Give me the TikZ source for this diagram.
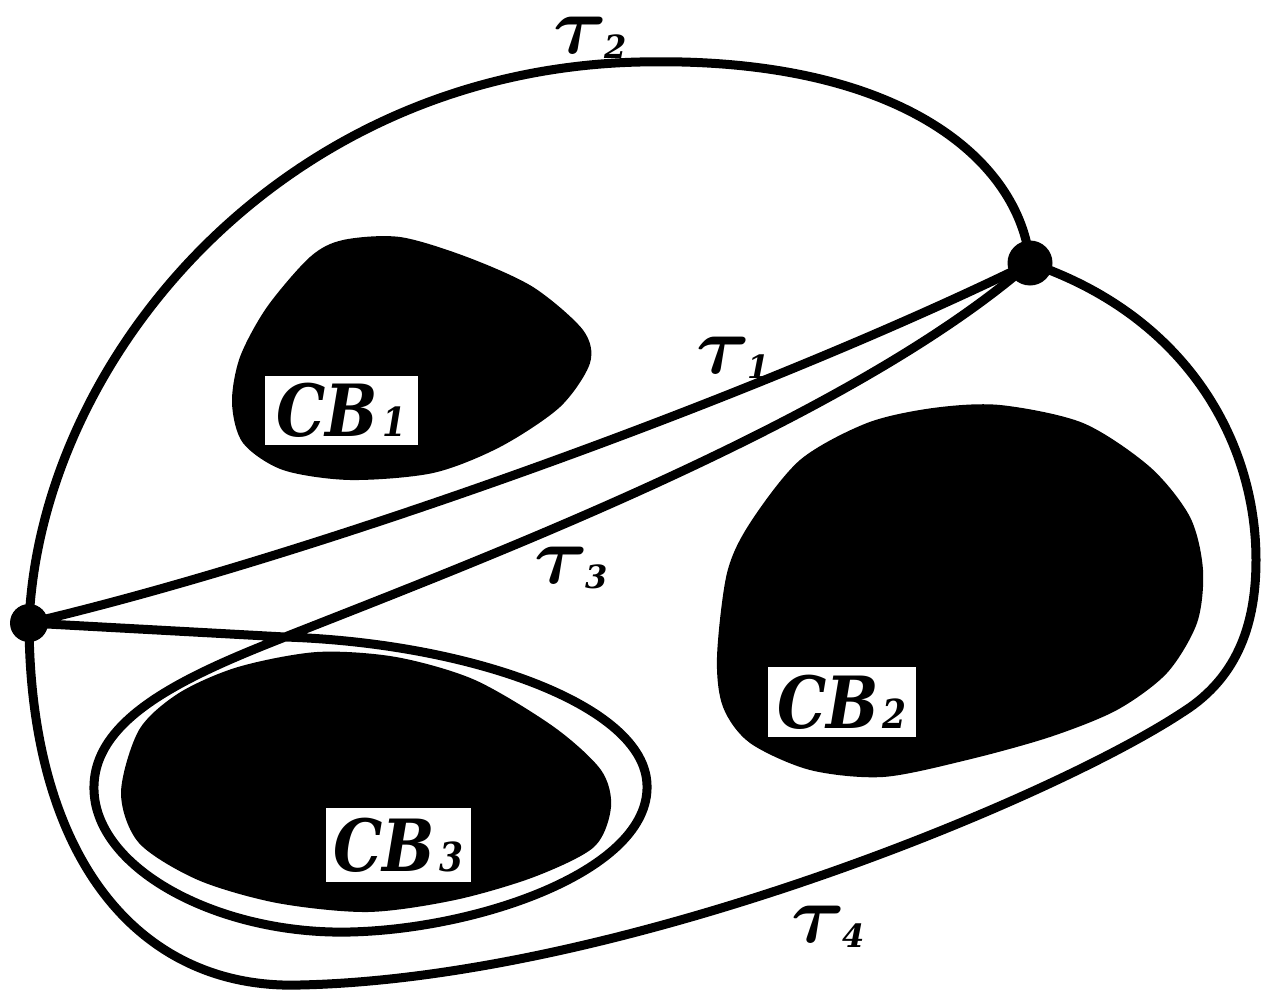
\RequirePackage{fix-cm}
\documentclass[tikz,border=0pt]{standalone}
\usepackage{bm}
\usepackage{fontspec}
\newfontfamily\cbfont{DejaVu Serif}
\tikzset{
  graph/.style = {x=1pt, y=-1pt, line join=round, line cap=round},
  edge/.style = {draw=black, line width=9pt},
  blob/.style = {fill=black},
  vert/.style = {circle, fill=black, inner sep=0pt, minimum size=38pt},
  cblbl/.style = {fill=white, inner sep=0pt, align=center,
    font=\cbfont\fontsize{72}{72}\selectfont\bfseries\itshape},
  taulbl/.style = {inner sep=0pt},
}
\newcommand{\taulab}[1]{{\fontsize{82}{82}\selectfont$\bm{\tau}$}\kern-3pt\raisebox{-5pt}{\cbfont\fontsize{32}{32}\selectfont\bfseries\itshape #1}}
\newcommand{\cblab}[1]{\scalebox{0.86}[1]{CB\kern5pt{\fontsize{40}{40}\selectfont #1}}}

\begin{document}
\begin{tikzpicture}[graph]
\useasboundingbox (0,0) rectangle (1270,1001);

\coordinate (a) at (29,623);
\coordinate (b) at (1030,263);
\coordinate (p) at (285,637);

% obstacles
\fill[blob] plot[smooth cycle] coordinates {(232,403) (240,357) (267,307) (310,257)
  (343,240) (400,237) (467,257) (533,287) (583,330) (590,363) (560,407) (500,447)
  (433,473) (350,480) (283,470) (243,443)};
\fill[blob] plot[smooth cycle] coordinates {(717,657) (727,573) (750,523) (800,460)
  (867,423) (933,408) (1000,405) (1083,423) (1150,467) (1190,517) (1203,570)
  (1197,623) (1167,673) (1117,710) (1050,737) (967,760) (883,777) (810,770)
  (750,743) (723,707)};
\fill[blob] plot[smooth cycle] coordinates {(121,793) (139,730) (179,693) (238,667)
  (317,652) (396,657) (475,680) (554,727) (601,770) (611,807) (594,847) (534,877)
  (455,900) (368,912) (277,903) (198,880) (139,843)};

% paths
\draw[edge] (a) .. controls (40,360) and (280,70) .. (640,62)
  .. controls (900,56) and (1020,160) .. (b);
\draw[edge] (a) .. controls (300,560) and (750,400) .. (b);
\draw[edge] (b) .. controls (850,420) and (480,560) .. (p)
  .. controls (180,678) and (92,720) .. (94,790)
  .. controls (96,870) and (220,935) .. (350,932)
  .. controls (480,929) and (650,870) .. (647,785)
  .. controls (645,705) and (470,643) .. (p) -- (a);
\draw[edge] (a) .. controls (30,860) and (140,990) .. (300,985)
  .. controls (620,978) and (1050,800) .. (1183,712)
  .. controls (1240,676) and (1256,620) .. (1256,560)
  .. controls (1256,440) and (1185,315) .. (b);

\node[vert] (va) at (a) {};
\node[vert, minimum size=45pt] (vb) at (b) {};

\node[taulbl] (t1) at (733,358) {\taulab{1}};
\node[taulbl] (t2) at (590,38) {\taulab{2}};
\node[taulbl] (t3) at (571,568) {\taulab{3}};
\node[taulbl] (t4) at (828,927) {\taulab{4}};

\node[cblbl, minimum width=153pt, minimum height=69pt] (cb1) at (341.5,410.5) {\cblab{1}};
\node[cblbl, minimum width=148pt, minimum height=70pt] (cb2) at (842,702) {\cblab{2}};
\node[cblbl, minimum width=145pt, minimum height=74pt] (cb3) at (398.5,845) {\cblab{3}};

\end{tikzpicture}
\end{document}
